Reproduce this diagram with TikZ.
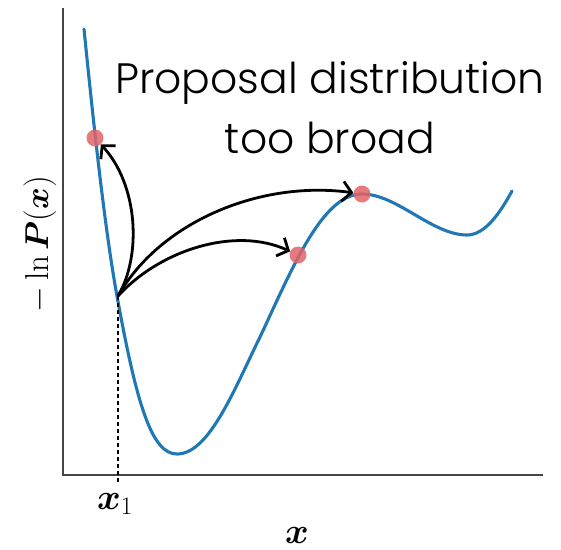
\RequirePackage{fix-cm}
\documentclass[tikz,border=0pt]{standalone}
\usepackage{amsmath,bm,graphicx}
\usepackage[no-math]{fontspec}
\setmainfont{Poppins Light}
\usetikzlibrary{arrows.meta}
\definecolor{curveblue}{RGB}{31,119,180}
\definecolor{dotred}{RGB}{226,100,105}
\definecolor{axisgray}{RGB}{70,70,70}
\begin{document}
\begin{tikzpicture}[x=1pt,y=-1pt,
  axisline/.style={draw=axisgray,line width=1.7pt},
  curveline/.style={draw=curveblue,line width=3.1pt,line join=round,line cap=round},
  dotnode/.style={circle,fill=dotred,fill opacity=0.85,inner sep=0pt,minimum size=17pt},
  proparrow/.style={draw=black,line width=2.8pt,-{Straight Barb[length=9pt,width=20pt]}},
  mathlab/.style={inner sep=0pt,font=\fontsize{30}{36}\selectfont}]
\useasboundingbox (0,0) rectangle (561,549);
% axes
\coordinate (ytop) at (63,8);
\coordinate (origin) at (63,475);
\coordinate (xend) at (543,475);
\draw[axisline] (ytop) -- (origin) -- (xend);
% curve
\draw[curveline] (84,29)
  .. controls (95,139) and (106,236) .. (117,296)
  .. controls (137,406) and (152,454) .. (177,454)
  .. controls (209,454) and (234,390) .. (260,337)
  .. controls (292,269) and (322,194) .. (362,194)
  .. controls (397,194) and (432,235) .. (467,235)
  .. controls (485,235) and (500,213) .. (512,191);
% x1 point and dashed guide
\coordinate (x1) at (118,296);
\coordinate (x1tick) at (118,482);
\draw[black,line width=1.2pt,dash pattern=on 4pt off 3pt] (x1) -- (x1tick);
% sample dots
\node[dotnode] (d1) at (95,138) {};
\node[dotnode] (d2) at (298,255) {};
\node[dotnode] (d3) at (362,194) {};
% arrows
\draw[proparrow] (x1) .. controls (142,255) and (138,185) .. (d1);
\draw[proparrow] (x1) .. controls (160,250) and (235,226) .. (d2);
\draw[proparrow] (x1) .. controls (160,222) and (260,180) .. (d3);
% labels
\node[align=center,font=\fontsize{42.5}{60}\selectfont] (title) at (330,108) {Proposal distribution\\too broad};
\node[mathlab] (x1lab) at (115,504) {\scalebox{1.2}{$\bm{x}_1$}};
\node[mathlab] (xlab) at (297,535) {\scalebox{1.2}{$\bm{x}$}};
\node[mathlab,rotate=90] (ylab) at (40,244) {\scalebox{1.1}{$-\ln \bm{P}(\bm{x})$}};
\end{tikzpicture}
\end{document}
